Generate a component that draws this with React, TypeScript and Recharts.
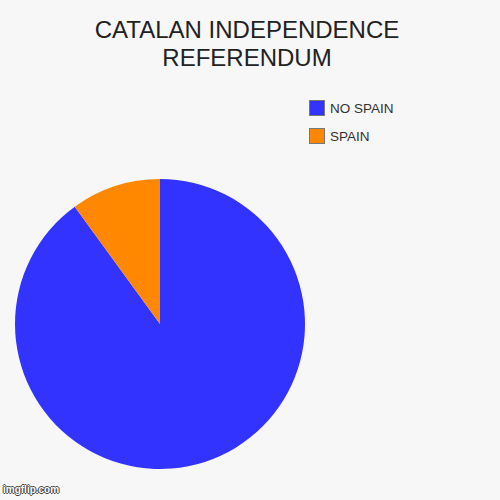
import { PieChart, Pie, Cell, Legend } from "recharts";

const categories = ["NO SPAIN", "SPAIN"];
const values = [90, 10];
const colors = ["#3333ff", "#ff8800"];

const data = categories.map((name, i) => ({ name, value: values[i] }));

// @ts-ignore
const renderLegend = (props) => {
  const { payload } = props;
  return (
    <div>
      {payload.map((entry: any, index: number) => (
        <div
          key={`item-${index}`}
          style={{ display: "flex", alignItems: "center", height: 28 }}
        >
          <span
            style={{
              display: "inline-block",
              width: 16,
              height: 16,
              background: entry.color,
              border: "1px solid #777",
              boxSizing: "border-box",
              marginRight: 5,
            }}
          />
          <span style={{ fontSize: 13.5, color: "#333" }}>{entry.value}</span>
        </div>
      ))}
    </div>
  );
};

export default function App() {
  return (
    <div
      style={{
        position: "absolute",
        top: 0,
        left: 0,
        width: 500,
        height: 500,
        background: "#f7f7f7",
        fontFamily: "'Liberation Sans', Arial, sans-serif",
      }}
    >
      <div
        style={{
          position: "absolute",
          top: 16,
          left: 0,
          width: 494,
          textAlign: "center",
          fontSize: 24,
          lineHeight: "28px",
          color: "#222",
        }}
      >
        CATALAN INDEPENDENCE
        <br />
        REFERENDUM
      </div>
      <PieChart
        width={500}
        height={500}
        margin={{ top: 0, right: 0, bottom: 0, left: 0 }}
      >
        <Pie
          data={data}
          dataKey="value"
          nameKey="name"
          cx={160}
          cy={324}
          outerRadius={145}
          startAngle={90}
          endAngle={-270}
          stroke="none"
          isAnimationActive={false}
        >
          {data.map((entry, index) => (
            <Cell key={`cell-${index}`} fill={colors[index]} />
          ))}
        </Pie>
        <Legend
          layout="vertical"
          content={renderLegend}
          wrapperStyle={{ position: "absolute", top: 94, left: 309, width: 150 }}
        />
      </PieChart>
      <div
        style={{
          position: "absolute",
          left: 3,
          top: 484,
          fontSize: 10,
          color: "#fff",
          fontWeight: "bold",
          textShadow:
            "1px 0 #444, -1px 0 #444, 0 1px #444, 0 -1px #444",
        }}
      >
        imgflip.com
      </div>
    </div>
  );
}
